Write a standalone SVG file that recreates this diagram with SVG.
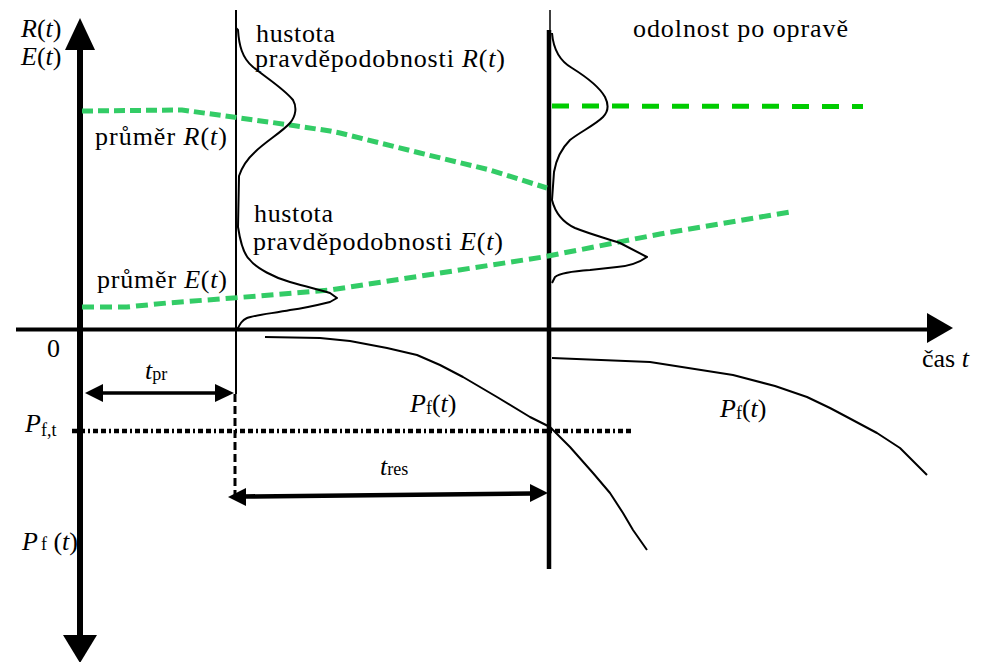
<svg xmlns="http://www.w3.org/2000/svg" width="990" height="662" viewBox="0 0 990 662">
<rect width="990" height="662" fill="#fff"/>
<g id="axes" fill="#000" stroke="#000">
<line x1="80" y1="45" x2="80" y2="640" stroke-width="6"/>
<polygon points="80,18 65,50 95,50" stroke="none"/>
<polygon points="80,663 63,635 97,635" stroke="none"/>
<line x1="16" y1="329.5" x2="930" y2="329.5" stroke-width="4"/>
<polygon points="953,328 927,313 927,343" stroke="none"/>
</g>
<g id="verticals" stroke="#000">
<line x1="236" y1="10" x2="236" y2="394" stroke-width="2"/>
<line x1="235" y1="394" x2="235" y2="500" stroke-width="3" stroke-dasharray="8 4"/>
<line x1="550" y1="10" x2="550" y2="32" stroke-width="1.5"/>
<line x1="549" y1="30" x2="549" y2="569" stroke-width="4.5"/>
</g>
<g id="means" fill="none" stroke-width="5">
<polyline stroke="#33cc66" stroke-dasharray="11 5" points="82,111 182,110 233,117 290,125 330,131 340,133 420,153 490,170 547,188"/>
<polyline stroke="#33cc66" stroke-dasharray="12 6" points="82,307 127,307 167,303 233,298 330,290 440,273 543,257 660,234 790,212"/>
<line stroke="#00cc00" stroke-dasharray="17 13" x1="552" y1="106" x2="863" y2="106.5"/>
</g>
<g id="densities" fill="none" stroke="#000" stroke-width="2" stroke-linejoin="round">
<path d="M236,28 L238,30 C239,45 242,58 253,67 C265,77 283,88 293,100 C297,107 296,116 290,123 C282,132 265,142 255,152 C244,162 241,170 239,176 L238,227 C240,240 244,255 250,260 C256,268 275,278 290,282 C300,285 313,288 330,293 L337,298 L330,302 C322,304 305,308 290,310 C275,313 255,315 247,318 C242,320 240,324 237,330"/>
<path d="M552,33 C553,45 558,60 572,68 C588,78 600,88 605,97 C609,105 608,112 603,117 C595,125 580,132 570,140 C560,150 556,160 554,172 L552,200 C555,212 562,222 575,228 C590,234 605,238 620,243 L647,257 C640,262 630,266 617,267 L590,270 C575,271 560,273 555,277 L552,283"/>
</g>
<g id="pf-curves" fill="none" stroke="#000" stroke-width="2" stroke-linejoin="round">
<polyline points="265,337 320,338 350,341 387,348 417,355 440,365 463,377 497,397 530,417 550,427 570,447 593,473 610,493 623,513 633,530 647,550"/>
<polyline points="552,358 650,362 733,375 775,386 807,397 830,408 847,417 877,433 900,448 927,475"/>
</g>
<g id="threshold">
<line x1="72" y1="431" x2="633" y2="431" stroke="#000" stroke-width="4.5" stroke-dasharray="5 3 5 3 2 3"/>
</g>
<g id="arrows" fill="#000">
<line x1="100" y1="393" x2="216" y2="393" stroke="#000" stroke-width="3.5"/>
<polygon points="85,393 103,384 103,402"/>
<polygon points="234,393 215,384 215,402"/>
<line x1="244" y1="496.5" x2="532" y2="493.5" stroke="#000" stroke-width="4.5"/>
<polygon points="228,497 246,488 246,506"/>
<polygon points="548,493 530,484 530,502"/>
</g>
<g id="labels">
<text x="21" y="37" font-family="Liberation Serif, serif" font-size="26"><tspan font-style="italic">R</tspan>(<tspan font-style="italic">t</tspan>)</text>
<text x="21" y="65" font-family="Liberation Serif, serif" font-size="26"><tspan font-style="italic">E</tspan>(<tspan font-style="italic">t</tspan>)</text>
<text x="256" y="42" font-family="Liberation Serif, serif" font-size="26" textLength="79">hustota</text>
<text x="255" y="67" font-family="Liberation Serif, serif" font-size="26" textLength="250">pravděpodobnosti <tspan font-style="italic">R</tspan>(<tspan font-style="italic">t</tspan>)</text>
<text x="633" y="37" font-family="Liberation Serif, serif" font-size="26" textLength="215">odolnost po opravě</text>
<text x="95" y="145" font-family="Liberation Serif, serif" font-size="26" textLength="132">průměr <tspan font-style="italic">R</tspan>(<tspan font-style="italic">t</tspan>)</text>
<text x="254" y="222" font-family="Liberation Serif, serif" font-size="26" textLength="79">hustota</text>
<text x="253" y="250" font-family="Liberation Serif, serif" font-size="26" textLength="250">pravděpodobnosti <tspan font-style="italic">E</tspan>(<tspan font-style="italic">t</tspan>)</text>
<text x="97" y="288" font-family="Liberation Serif, serif" font-size="26" textLength="130">průměr <tspan font-style="italic">E</tspan>(<tspan font-style="italic">t</tspan>)</text>
<text x="47" y="357" font-family="Liberation Serif, serif" font-size="26">0</text>
<text x="922" y="367" font-family="Liberation Serif, serif" font-size="26">čas <tspan font-style="italic">t</tspan></text>
<text x="145" y="379" font-family="Liberation Serif, serif" font-size="26"><tspan font-style="italic">t</tspan><tspan font-size="18" dy="1">pr</tspan></text>
<text x="25" y="432" font-family="Liberation Serif, serif" font-size="26"><tspan font-style="italic">P</tspan><tspan font-size="18" dy="4">f,t</tspan></text>
<text x="410" y="412" font-family="Liberation Serif, serif" font-size="26"><tspan font-style="italic">P</tspan><tspan font-size="18" dy="2">f</tspan><tspan dy="-2">(</tspan><tspan font-style="italic">t</tspan>)</text>
<text x="720" y="417" font-family="Liberation Serif, serif" font-size="26"><tspan font-style="italic">P</tspan><tspan font-size="18" dy="2">f</tspan><tspan dy="-2">(</tspan><tspan font-style="italic">t</tspan>)</text>
<text x="380" y="475" font-family="Liberation Serif, serif" font-size="26"><tspan font-style="italic">t</tspan><tspan font-size="18">res</tspan></text>
<text x="22" y="550" font-family="Liberation Serif, serif" font-size="26"><tspan font-style="italic">P</tspan><tspan font-size="18" dx="3">f</tspan> (<tspan font-style="italic">t</tspan>)</text>
</g>
</svg>
